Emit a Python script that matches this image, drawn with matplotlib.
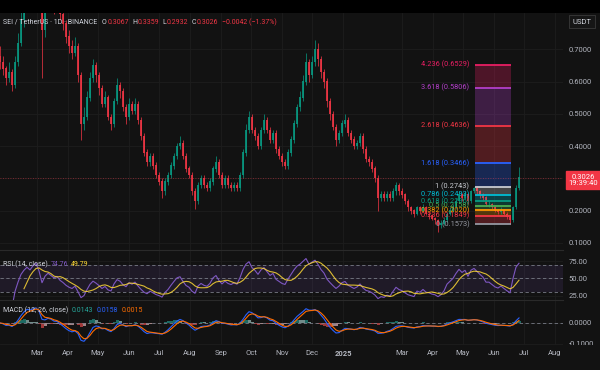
import numpy as np
import pandas as pd
import matplotlib
matplotlib.use("Agg")
import matplotlib.pyplot as plt
import matplotlib.dates as mdates

plt.rcParams['font.family'] = ['Roboto', 'DejaVu Sans']

# 3-day candles, SEI / USDT
start_date = "2024-01-24"
first_open = 0.68
closes = [0.66, 0.64, 0.61, 0.63, 0.59, 0.66, 0.72, 0.79, 0.84, 0.88,
          0.86, 0.92, 0.96, 0.90, 0.76, 0.85, 0.90, 0.87, 0.84, 0.86,
          0.81, 0.78, 0.74, 0.71, 0.69, 0.71, 0.62, 0.47, 0.49, 0.55,
          0.61, 0.65, 0.62, 0.58, 0.53, 0.55, 0.49, 0.47, 0.54, 0.59,
          0.57, 0.52, 0.49, 0.53, 0.51, 0.53, 0.48, 0.43, 0.38, 0.35,
          0.37, 0.34, 0.31, 0.29, 0.26, 0.29, 0.31, 0.34, 0.37, 0.40,
          0.41, 0.37, 0.33, 0.31, 0.26, 0.23, 0.28, 0.30, 0.28, 0.27,
          0.29, 0.33, 0.35, 0.31, 0.28, 0.30, 0.28, 0.27, 0.28, 0.27,
          0.31, 0.38, 0.45, 0.49, 0.45, 0.43, 0.40, 0.45, 0.48, 0.45,
          0.42, 0.44, 0.39, 0.37, 0.35, 0.34, 0.38, 0.42, 0.47, 0.52,
          0.55, 0.60, 0.66, 0.62, 0.66, 0.70, 0.67, 0.63, 0.60, 0.54,
          0.50, 0.46, 0.42, 0.44, 0.47, 0.48, 0.44, 0.42, 0.40, 0.41,
          0.43, 0.39, 0.36, 0.35, 0.33, 0.30, 0.24, 0.25, 0.24, 0.25,
          0.24, 0.26, 0.28, 0.26, 0.25, 0.23, 0.21, 0.20, 0.19, 0.21,
          0.20, 0.21, 0.19, 0.185, 0.175, 0.17, 0.155, 0.16, 0.17, 0.19,
          0.20, 0.21, 0.23, 0.25, 0.24, 0.25, 0.23, 0.26, 0.27, 0.26,
          0.25, 0.24, 0.22, 0.22, 0.21, 0.20, 0.195, 0.20, 0.19, 0.18,
          0.17, 0.21, 0.27, 0.3026]
highs = [0.71, 0.68, 0.65, 0.66, 0.64, 0.68, 0.75, 0.82, 0.87, 0.92,
         0.91, 0.96, 1.01, 0.98, 0.92, 0.88, 0.94, 0.93, 0.89, 0.89,
         0.87, 0.83, 0.79, 0.76, 0.73, 0.74, 0.72, 0.63, 0.52, 0.57,
         0.63, 0.67, 0.66, 0.63, 0.59, 0.57, 0.56, 0.50, 0.55, 0.61,
         0.60, 0.58, 0.53, 0.55, 0.54, 0.55, 0.54, 0.49, 0.44, 0.39,
         0.38, 0.38, 0.35, 0.32, 0.30, 0.30, 0.32, 0.35, 0.38, 0.41,
         0.43, 0.42, 0.38, 0.34, 0.32, 0.27, 0.29, 0.31, 0.31, 0.29,
         0.30, 0.34, 0.37, 0.36, 0.32, 0.31, 0.31, 0.29, 0.29, 0.29,
         0.32, 0.39, 0.47, 0.51, 0.50, 0.46, 0.44, 0.46, 0.50, 0.49,
         0.46, 0.45, 0.45, 0.40, 0.38, 0.36, 0.39, 0.43, 0.48, 0.53,
         0.57, 0.62, 0.69, 0.67, 0.68, 0.73, 0.72, 0.68, 0.64, 0.61,
         0.55, 0.51, 0.47, 0.45, 0.48, 0.50, 0.49, 0.45, 0.43, 0.42,
         0.44, 0.44, 0.40, 0.37, 0.36, 0.34, 0.31, 0.26, 0.26, 0.26,
         0.26, 0.27, 0.29, 0.285, 0.27, 0.255, 0.235, 0.215, 0.205, 0.215,
         0.215, 0.22, 0.215, 0.195, 0.19, 0.18, 0.175, 0.17, 0.18, 0.195,
         0.21, 0.22, 0.24, 0.26, 0.255, 0.26, 0.255, 0.265, 0.2743, 0.275,
         0.265, 0.255, 0.245, 0.23, 0.225, 0.215, 0.205, 0.21, 0.205, 0.195,
         0.185, 0.215, 0.28, 0.3359]
lows = [0.64, 0.62, 0.59, 0.60, 0.57, 0.58, 0.65, 0.71, 0.77, 0.82,
        0.83, 0.85, 0.90, 0.87, 0.61, 0.74, 0.83, 0.84, 0.81, 0.82,
        0.79, 0.76, 0.72, 0.69, 0.67, 0.68, 0.60, 0.42, 0.45, 0.48,
        0.54, 0.60, 0.60, 0.56, 0.52, 0.52, 0.48, 0.45, 0.46, 0.53,
        0.55, 0.51, 0.47, 0.48, 0.50, 0.50, 0.47, 0.42, 0.37, 0.34,
        0.34, 0.33, 0.30, 0.28, 0.24, 0.25, 0.28, 0.30, 0.33, 0.36,
        0.39, 0.36, 0.32, 0.30, 0.25, 0.205, 0.22, 0.27, 0.27, 0.26,
        0.26, 0.28, 0.32, 0.30, 0.27, 0.27, 0.27, 0.26, 0.26, 0.26,
        0.26, 0.30, 0.37, 0.44, 0.44, 0.42, 0.39, 0.39, 0.44, 0.44,
        0.41, 0.41, 0.38, 0.36, 0.34, 0.33, 0.33, 0.37, 0.41, 0.46,
        0.51, 0.54, 0.59, 0.60, 0.61, 0.65, 0.65, 0.61, 0.58, 0.52,
        0.48, 0.45, 0.40, 0.41, 0.43, 0.46, 0.43, 0.41, 0.39, 0.39,
        0.40, 0.38, 0.35, 0.34, 0.32, 0.29, 0.20, 0.23, 0.23, 0.23,
        0.23, 0.23, 0.25, 0.25, 0.24, 0.22, 0.20, 0.19, 0.18, 0.185,
        0.19, 0.195, 0.185, 0.175, 0.17, 0.16, 0.135, 0.145, 0.155, 0.165,
        0.185, 0.195, 0.205, 0.225, 0.23, 0.235, 0.22, 0.225, 0.255, 0.25,
        0.24, 0.23, 0.215, 0.21, 0.205, 0.195, 0.19, 0.19, 0.185, 0.175,
        0.1573, 0.165, 0.205, 0.265]

# Fibonacci extension tool
fib_levels = [0, 0.236, 0.382, 0.5, 0.618, 0.786, 1, 1.618, 2.618, 3.618, 4.236]
fib_colors = ['#9598a1', '#f23645', '#ff9800', '#4caf50', '#089981', '#00bcd4',
              '#c8cad0', '#2962ff', '#f23645', '#b33fc9', '#e91e63']
fib_p0, fib_p1 = 0.1573, 0.2743
fib_start, fib_end = "2025-05-13", "2025-06-18"

price_ticks = [0.1, 0.2, 0.3, 0.4, 0.5, 0.6, 0.7]
rsi_ticks = [25, 50, 75]
macd_ticks = [-0.1, 0.0]
month_ticks = ["2024-03-01", "2024-04-01", "2024-05-01", "2024-06-01", "2024-07-01",
               "2024-08-01", "2024-09-01", "2024-10-01", "2024-11-01", "2024-12-01",
               "2025-01-01", "2025-03-01", "2025-04-01", "2025-05-01", "2025-06-01",
               "2025-07-01", "2025-08-01"]
month_labels = ["Mar", "Apr", "May", "Jun", "Jul", "Aug", "Sep", "Oct", "Nov", "Dec",
                "2025", "Mar", "Apr", "May", "Jun", "Jul", "Aug"]

bg = '#121212'
grid = '#1d1d1d'
txt = '#b2b5be'
up, down = '#089981', '#f23645'

dates = pd.date_range(start_date, periods=len(closes), freq='3D')
x = mdates.date2num(dates)
c = np.array(closes)
o = np.r_[first_open, c[:-1]]
h = np.array(highs)
l = np.array(lows)

# indicators (periods scaled to 3-day bars)
s = pd.Series(c)
d = s.diff()
g = d.clip(lower=0).ewm(alpha=1/10, adjust=False).mean()
ls = (-d.clip(upper=0)).ewm(alpha=1/10, adjust=False).mean()
rsi = 100 - 100 / (1 + g / ls)
rsi[:3] = np.nan
rsi_ma = rsi.rolling(6).mean()
macd = s.ewm(span=4, adjust=False).mean() - s.ewm(span=9, adjust=False).mean()
sig = macd.ewm(span=3, adjust=False).mean()
hist = macd - sig

W, H = 600, 370
fig = plt.figure(figsize=(6, 3.7), dpi=100, facecolor=bg)

def box(x0, y0, x1, y1):
    return [x0 / W, 1 - y1 / H, (x1 - x0) / W, (y1 - y0) / H]

x_left = mdates.date2num(pd.Timestamp(start_date))
x_right = x_left + 563

ax = fig.add_axes(box(0, 13, 563, 250))
ax_r = fig.add_axes(box(0, 250, 563, 300))
ax_m = fig.add_axes(box(0, 300, 563, 345))
tax = fig.add_axes(box(0, 345, 600, 370))
top = fig.add_axes(box(0, 0, 600, 13))
top.set_facecolor('#000000')
top.set_xticks([])
top.set_yticks([])
for sp in top.spines.values():
    sp.set_visible(False)

tick_x = mdates.date2num(pd.to_datetime(month_ticks))
for a in (ax, ax_r, ax_m):
    a.set_facecolor(bg)
    a.set_xlim(x_left, x_right)
    a.set_xticks(tick_x)
    a.tick_params(axis='x', length=0, labelbottom=False)
    a.yaxis.tick_right()
    a.tick_params(axis='y', length=0, pad=4, labelsize=5.5, labelcolor=txt)
    a.grid(True, color=grid, lw=0.6)
    a.set_axisbelow(True)
    for sp in a.spines.values():
        sp.set_visible(False)
    a.spines['top'].set_visible(True)
    a.spines['top'].set_color('#2a2a2a')
    a.spines['top'].set_linewidth(0.8)
ax.spines['top'].set_visible(False)

# candles
col = np.where(c >= o, up, down)
ax.vlines(x, l, h, colors=col, lw=0.6, alpha=0.85)
ax.bar(x, np.abs(c - o) + 0.001, bottom=np.minimum(o, c), width=2.0, color=col, lw=0, alpha=0.85)
ax.set_ylim(0.078, 0.813)
ax.set_yticks(price_ticks)
# 0.3000 sits under the live price badge
ax.set_yticklabels(["" if p == 0.3 else f"{p:.4f}" for p in price_ticks])
ax.axhline(c[-1], color=down, lw=0.6, ls=(0, (1, 2)), alpha=0.6)

# fib extension
fx0 = mdates.date2num(pd.Timestamp(fib_start))
fx1 = mdates.date2num(pd.Timestamp(fib_end))
fib_prices = [fib_p0 + lv * (fib_p1 - fib_p0) for lv in fib_levels]
for k in range(len(fib_levels) - 1):
    ax.fill_between([fx0, fx1], fib_prices[k], fib_prices[k + 1], color=fib_colors[k + 1], alpha=0.28, lw=0)
for lv, p, cl in zip(fib_levels, fib_prices, fib_colors):
    ax.hlines(p, fx0, fx1, color=cl, lw=1.3)
    ax.annotate(f"{lv:g} ({p:.4f})", (fx0, p), xytext=(-4, 0), textcoords='offset points',
                ha='right', va='center', fontsize=5.3, color=cl)

# RSI
ax_r.axhspan(30, 70, color='#7e57c2', alpha=0.12, lw=0)
for lv in (70, 50, 30):
    ax_r.axhline(lv, color='#787b86', lw=0.6, ls=(0, (4, 3)))
ax_r.plot(x, rsi, color='#7e57c2', lw=0.8)
ax_r.plot(x, rsi_ma, color='#fdd835', lw=0.8, alpha=0.85)
ax_r.set_ylim(19, 91)
ax_r.set_yticks(rsi_ticks)
ax_r.set_yticklabels([f"{v:.2f}" for v in rsi_ticks])

# MACD
hcol = []
for i, v in enumerate(hist):
    prev = hist[i - 1] if i > 0 else 0
    if v >= 0:
        hcol.append('#26a69a' if v >= prev else '#b2dfdb')
    else:
        hcol.append('#ff5252' if v < prev else '#ffcdd2')
ax_m.bar(x, hist, width=3.0, color=hcol, alpha=0.6, lw=0)
ax_m.axhline(0, color='#787b86', lw=0.6, ls=(0, (4, 3)))
ax_m.plot(x, macd, color='#2962ff', lw=0.8)
ax_m.plot(x, sig, color='#ff6d00', lw=0.8)
ax_m.set_ylim(-0.1048, 0.1095)
ax_m.set_yticks(macd_ticks)
ax_m.set_yticklabels([f"{v:.4f}" for v in macd_ticks])

# time axis
tax.set_facecolor(bg)
tax.set_xlim(x_left, x_left + 600)
tax.set_ylim(0, 1)
tax.set_xticks([])
tax.set_yticks([])
for sp in tax.spines.values():
    sp.set_visible(False)
for tx, lb in zip(tick_x, month_labels):
    tax.text(tx, 0.68, lb, ha='center', va='center', fontsize=5.5, color=txt,
             fontweight='bold' if lb == '2025' else 'normal')

# legends: each piece placed right after the previous one
def chain(parts, px, py, fs=5.0):
    prev = None
    for s_, color, gap in parts:
        if prev is None:
            prev = fig.text(px / W, 1 - py / H, s_, color=color, fontsize=fs, va='center')
        else:
            prev = top.annotate(s_, xy=(1, 0.5), xycoords=prev, xytext=(gap, 0),
                                textcoords='offset points', ha='left', va='center',
                                color=color, fontsize=fs, annotation_clip=False)

lg = '#d1d4dc'
chain([("SEI / TetherUS · 1D · BINANCE", lg, 0), ("O", lg, 3.5), ("0.3067", down, 0.3),
       ("H", lg, 2.5), ("0.3359", down, 0.3), ("L", lg, 2.5), ("0.2932", down, 0.3),
       ("C", lg, 2.5), ("0.3026", down, 0.3), ("\u22120.0042 (\u22121.37%)", down, 2.5)], 3, 22)
chain([("RSI (14, close)", lg, 0), ("74.76", '#7e57c2', 2.0), ("49.79", '#fdd835', 2.0)], 3, 264)
chain([("MACD (12, 26, close)", lg, 0), ("0.0143", '#26a69a', 2.5), ("0.0158", '#2962ff', 2.5),
       ("0.0015", '#ff6d00', 2.5)], 3, 310)

# price scale badges
fig.text(582 / W, 1 - 21.5 / H, "USDT", color=lg, fontsize=5.5, ha='center', va='center',
         bbox=dict(boxstyle='square,pad=0.45', fc='#161616', ec='#3a3a3a', lw=0.6))
fig.text(583 / W, 1 - 180 / H, "0.3026\n19:39:40", color='white', fontsize=5.5, ha='center',
         va='center', linespacing=1.1,
         bbox=dict(boxstyle='square,pad=0.35', fc=down, ec=down))

fig.savefig("out.png", dpi=100, facecolor=bg)
